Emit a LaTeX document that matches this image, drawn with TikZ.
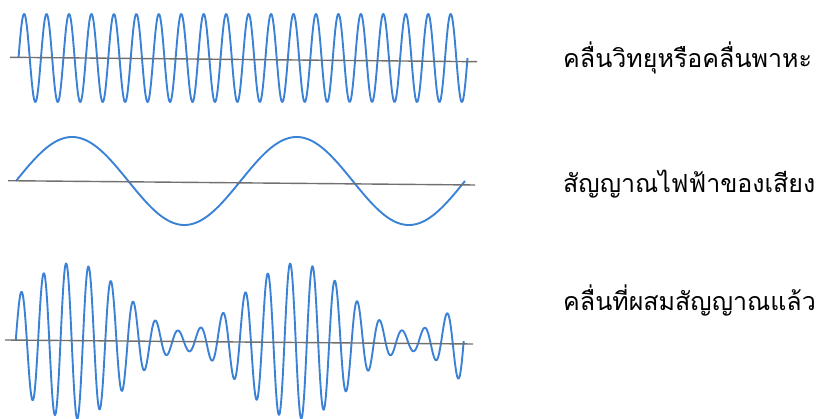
\documentclass[tikz,border=0pt]{standalone}
\usepackage{fontspec}
\usepackage{xcolor}
\usepackage{tikz}
\newfontfamily\thaifont[Script=Thai]{Loma}
\definecolor{wblue}{HTML}{3B82D6}
\definecolor{wgray}{HTML}{707070}

\begin{document}
\begin{tikzpicture}[x=1pt,y=-1pt,
    wave/.style={wblue,line width=1.9pt,line join=round},
    axisline/.style={wgray,line width=1.4pt},
    lbl/.style={anchor=base west,inner sep=0pt,font=\thaifont\fontsize{25}{29}\selectfont}]
  \useasboundingbox (0,0) rectangle (837,419);
  % carrier wave
  \draw[wave] plot[domain=18.5:467.5,samples=900] (\x,{58-44*sin(16.0356*(\x-18.5))});
  \coordinate (c1) at (10,57.3);
  \coordinate (c2) at (477,61.7);
  \draw[axisline] (c1) -- (c2);
  % audio signal
  \draw[wave] plot[domain=16:465,samples=300] (\x,{181-44*sin(1.60356*(\x-16))});
  \coordinate (a1) at (8,180.7);
  \coordinate (a2) at (475,185);
  \draw[axisline] (a1) -- (a2);
  % modulated wave
  \draw[wave] plot[domain=15.7:463.7,samples=1200] (\x,{341-(44+34*sin(1.60356*(\x-16)))*sin(16.0714*(\x-15.7))});
  \coordinate (m1) at (5,340);
  \coordinate (m2) at (473,344);
  \draw[axisline] (m1) -- (m2);
  % labels
  \node[lbl] (carrier) at (563,68) {คลื่นวิทยุหรือคลื่นพาหะ};
  \node[lbl] (audio) at (563,193) {สัญญาณไฟฟ้าของเสียง};
  \node[lbl] (mixed) at (563,310) {คลื่นที่ผสมสัญญาณแล้ว};
\end{tikzpicture}
\end{document}
